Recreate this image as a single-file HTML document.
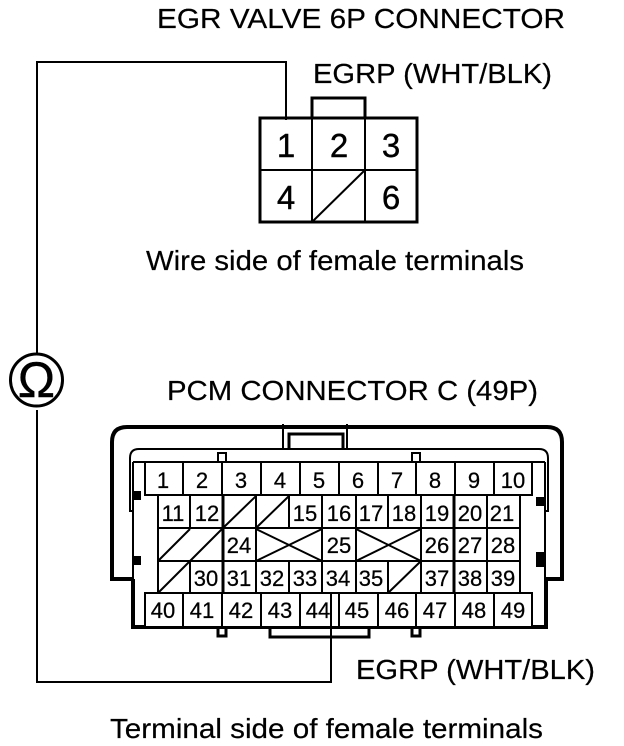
<!DOCTYPE html>
<html>
<head>
<meta charset="utf-8">
<style>
html,body{margin:0;padding:0;background:#fff}
svg{display:block}
text{font-family:"Liberation Sans",sans-serif;fill:#000}
.t{font-size:28px;stroke:#000;stroke-width:.2px}
.n{font-size:22px;text-anchor:middle;stroke:#000;stroke-width:.25px}
.b{font-size:33px;text-anchor:middle;stroke:#000;stroke-width:.4px}
</style>
</head>
<body>
<svg width="624" height="746" viewBox="0 0 624 746" xmlns="http://www.w3.org/2000/svg">
<rect width="624" height="746" fill="#fff"/>

<text class="t" x="157" y="28" textLength="408" lengthAdjust="spacingAndGlyphs">EGR VALVE 6P CONNECTOR</text>
<text class="t" x="313" y="83" textLength="239" lengthAdjust="spacingAndGlyphs">EGRP (WHT/BLK)</text>
<text class="t" x="146" y="270" textLength="378" lengthAdjust="spacingAndGlyphs">Wire side of female terminals</text>
<text class="t" x="167" y="400" textLength="371" lengthAdjust="spacingAndGlyphs">PCM CONNECTOR C (49P)</text>
<text class="t" x="356" y="679" textLength="239" lengthAdjust="spacingAndGlyphs">EGRP (WHT/BLK)</text>
<text class="t" x="110" y="738" textLength="433" lengthAdjust="spacingAndGlyphs">Terminal side of female terminals</text>

<g fill="none" stroke="#000" stroke-width="2" shape-rendering="crispEdges">
<path d="M286,120 V62 H37 V357"/>
<path d="M37,410 V682 H331 V592"/>
</g>

<circle cx="36.5" cy="380" r="26" fill="#fff" stroke="#000" stroke-width="3"/>
<text x="36.5" y="397" font-size="50" text-anchor="middle" stroke="#000" stroke-width=".4">Ω</text>

<g fill="none" stroke="#000" shape-rendering="crispEdges">
<path d="M312,118 V98 H365 V118" stroke-width="3"/>
<rect x="260" y="118" width="157" height="104" stroke-width="3"/>
<path d="M312,118 V222 M365,118 V222 M260,170 H417" stroke-width="2"/>
</g>
<path d="M312,222 L365,170" fill="none" stroke="#000" stroke-width="2"/>
<text class="b" x="286" y="157">1</text>
<text class="b" x="339" y="157">2</text>
<text class="b" x="391" y="157">3</text>
<text class="b" x="286" y="209">4</text>
<text class="b" x="391" y="209">6</text>

<g fill="none" stroke="#000">
<path d="M133,579 H112 V442 Q112,427 127,427 H547 Q562,427 562,442 V579 H546" stroke-width="4"/>
<path d="M133,511 H130 V458 Q130,449 139,449 H539 Q548,449 548,458 V511 H545" stroke-width="2"/>
</g>
<g fill="none" stroke="#000" shape-rendering="crispEdges">
<path d="M283,424 V450 M347,424 V450" stroke-width="2"/>
<path d="M289,449 V434 H343 V449" stroke-width="3"/>
<path d="M133,462 H545" stroke-width="2"/>
<path d="M133,462 V579 M545,462 V579" stroke-width="2"/>
<path d="M133,579 V627 H546 V579" stroke-width="4"/>
<rect x="218" y="453" width="8" height="9" stroke-width="2"/>
<rect x="412" y="453" width="8" height="9" stroke-width="2"/>
<path d="M218,627 V636 H226 V627 M412,627 V636 H420 V627" stroke-width="3"/>
<path d="M270,627 V637 H369 V627" stroke-width="3"/>
</g>
<rect x="134" y="491" width="7" height="9" fill="#000"/>
<rect x="133" y="556" width="8" height="9" fill="#000"/>
<rect x="536" y="497" width="9" height="9" fill="#000"/>
<rect x="536" y="552" width="9" height="15" fill="#000"/>

<g fill="none" stroke="#000" stroke-width="2" shape-rendering="crispEdges">
<rect x="145" y="462" width="387" height="33" fill="#fff"/>
<rect x="145" y="593" width="387" height="34" fill="#fff"/>
<path d="M183,462 V495 M222,462 V495 M261,462 V495 M300,462 V495 M339,462 V495 M378,462 V495 M416,462 V495 M455,462 V495 M494,462 V495"/>
<path d="M183,593 V627 M222,593 V627 M261,593 V627 M300,593 V627 M339,593 V627 M378,593 V627 M416,593 V627 M455,593 V627 M494,593 V627"/>
<path d="M158,495 V593 M520,495 V593 M158,528 H520 M158,561 H520"/>
<path d="M190,495 V528 M190,561 V593"/>
<path d="M223,495 V593 M454,495 V593" stroke-width="3"/>
<path d="M256,495 V593 M322,495 V593 M356,495 V593 M421,495 V593 M487,495 V593"/>
<path d="M289,495 V528 M289,561 V593 M388,495 V528 M388,561 V593"/>
</g>
<g fill="none" stroke="#000" stroke-width="2">
<path d="M223,528 L256,496 M256,528 L289,496"/>
<path d="M158,561 L190,529 M190,561 L223,528 M158,593 L190,561"/>
<path d="M256,529 L322,561 M322,529 L256,561 M356,529 L421,561 M421,529 L356,561"/>
<path d="M388,593 L421,561"/>
</g>
<path d="M331,682 V592" fill="none" stroke="#000" stroke-width="2" shape-rendering="crispEdges"/>

<text class="n" x="163" y="488">1</text>
<text class="n" x="202" y="488">2</text>
<text class="n" x="241" y="488">3</text>
<text class="n" x="280" y="488">4</text>
<text class="n" x="319" y="488">5</text>
<text class="n" x="358" y="488">6</text>
<text class="n" x="397" y="488">7</text>
<text class="n" x="435" y="488">8</text>
<text class="n" x="474" y="488">9</text>
<text class="n" x="513" y="488">10</text>

<text class="n" x="173" y="521">11</text>
<text class="n" x="207" y="521">12</text>
<text class="n" x="305" y="521">15</text>
<text class="n" x="339" y="521">16</text>
<text class="n" x="371" y="521">17</text>
<text class="n" x="404" y="521">18</text>
<text class="n" x="437" y="521">19</text>
<text class="n" x="470" y="521">20</text>
<text class="n" x="502" y="521">21</text>

<text class="n" x="239" y="553">24</text>
<text class="n" x="339" y="553">25</text>
<text class="n" x="437" y="553">26</text>
<text class="n" x="470" y="553">27</text>
<text class="n" x="503" y="553">28</text>

<text class="n" x="206" y="586">30</text>
<text class="n" x="239" y="586">31</text>
<text class="n" x="272" y="586">32</text>
<text class="n" x="305" y="586">33</text>
<text class="n" x="338" y="586">34</text>
<text class="n" x="371" y="586">35</text>
<text class="n" x="437" y="586">37</text>
<text class="n" x="470" y="586">38</text>
<text class="n" x="503" y="586">39</text>

<text class="n" x="163" y="618">40</text>
<text class="n" x="202" y="618">41</text>
<text class="n" x="241" y="618">42</text>
<text class="n" x="280" y="618">43</text>
<text class="n" x="318" y="618">44</text>
<text class="n" x="357" y="618">45</text>
<text class="n" x="397" y="618">46</text>
<text class="n" x="435" y="618">47</text>
<text class="n" x="474" y="618">48</text>
<text class="n" x="513" y="618">49</text>
</svg>
</body>
</html>
